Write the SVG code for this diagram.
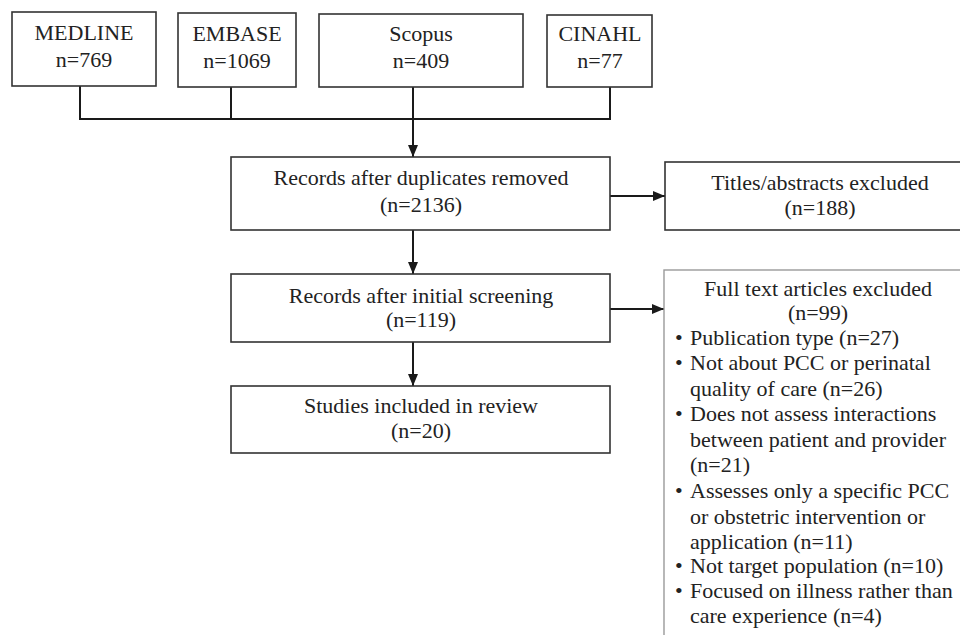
<svg xmlns="http://www.w3.org/2000/svg" width="960" height="635" viewBox="0 0 960 635">
  <style>
    .box { fill: #ffffff; stroke: #333333; stroke-width: 1.6; }
    .box-light { fill: #ffffff; stroke: #9a9a9a; stroke-width: 1.4; }
    .wire { fill: none; stroke: #1a1a1a; stroke-width: 2; }
    text { font-family: "Liberation Serif", "Times New Roman", serif; font-size: 22px; fill: #222222; }
    .c { text-anchor: middle; }
  </style>
  <defs>
    <marker id="arrow" markerWidth="12" markerHeight="10" refX="12" refY="5" orient="auto" markerUnits="userSpaceOnUse">
      <path d="M0,0 L12,5 L0,10 Z" fill="#1a1a1a"/>
    </marker>
  </defs>
  <rect x="0" y="0" width="960" height="635" fill="#ffffff"/>

  <!-- connectors -->
  <g id="connectors">
    <path class="wire" d="M80,86 V119 H610 V87 M231,87 V119 M413,87 V119"/>
    <path class="wire" d="M413,119 V157" marker-end="url(#arrow)"/>
    <path class="wire" d="M413,230 V274" marker-end="url(#arrow)"/>
    <path class="wire" d="M413,342 V386" marker-end="url(#arrow)"/>
    <path class="wire" d="M610,196 H665" marker-end="url(#arrow)"/>
    <path class="wire" d="M610,309 H664" marker-end="url(#arrow)"/>
  </g>

  <!-- source databases -->
  <g id="medline">
    <rect class="box" x="12" y="12" width="144" height="74"/>
    <text class="c" x="84" y="40">MEDLINE</text>
    <text class="c" x="84" y="67">n=769</text>
  </g>
  <g id="embase">
    <rect class="box" x="178" y="13" width="118" height="74"/>
    <text class="c" x="237" y="41">EMBASE</text>
    <text class="c" x="237" y="68">n=1069</text>
  </g>
  <g id="scopus">
    <rect class="box" x="319" y="14" width="204" height="73"/>
    <text class="c" x="421" y="41">Scopus</text>
    <text class="c" x="421" y="68">n=409</text>
  </g>
  <g id="cinahl">
    <rect class="box" x="547" y="15" width="105" height="72"/>
    <text class="c" x="600" y="41">CINAHL</text>
    <text class="c" x="600" y="68">n=77</text>
  </g>

  <!-- screening stages -->
  <g id="duplicates-removed">
    <rect class="box" x="231" y="157" width="379" height="73"/>
    <text class="c" x="421" y="185">Records after duplicates removed</text>
    <text class="c" x="421" y="212">(n=2136)</text>
  </g>
  <g id="titles-excluded">
    <rect class="box" x="665" y="162" width="310" height="68"/>
    <text class="c" x="820" y="190">Titles/abstracts excluded</text>
    <text class="c" x="820" y="215">(n=188)</text>
  </g>
  <g id="initial-screening">
    <rect class="box" x="231" y="274" width="379" height="68"/>
    <text class="c" x="421" y="303">Records after initial screening</text>
    <text class="c" x="421" y="327">(n=119)</text>
  </g>
  <g id="studies-included">
    <rect class="box" x="231" y="386" width="379" height="67"/>
    <text class="c" x="421" y="413">Studies included in review</text>
    <text class="c" x="421" y="438">(n=20)</text>
  </g>

  <!-- full-text exclusions -->
  <g id="fulltext-excluded">
    <rect class="box-light" x="664" y="270" width="320" height="380"/>
    <text class="c" x="818" y="296">Full text articles excluded</text>
    <text class="c" x="818" y="320">(n=99)</text>
    <g>
      <text x="675" y="345">•</text>
      <text x="690" y="345">Publication type (n=27)</text>
      <text x="675" y="370">•</text>
      <text x="690" y="370">Not about PCC or perinatal</text>
      <text x="690" y="396">quality of care (n=26)</text>
      <text x="675" y="421">•</text>
      <text x="690" y="421">Does not assess interactions</text>
      <text x="690" y="447">between patient and provider</text>
      <text x="690" y="472">(n=21)</text>
      <text x="675" y="498">•</text>
      <text x="690" y="498">Assesses only a specific PCC</text>
      <text x="690" y="524">or obstetric intervention or</text>
      <text x="690" y="549">application (n=11)</text>
      <text x="675" y="573">•</text>
      <text x="690" y="573">Not target population (n=10)</text>
      <text x="675" y="598">•</text>
      <text x="690" y="598">Focused on illness rather than</text>
      <text x="690" y="623">care experience (n=4)</text>
    </g>
  </g>
</svg>
